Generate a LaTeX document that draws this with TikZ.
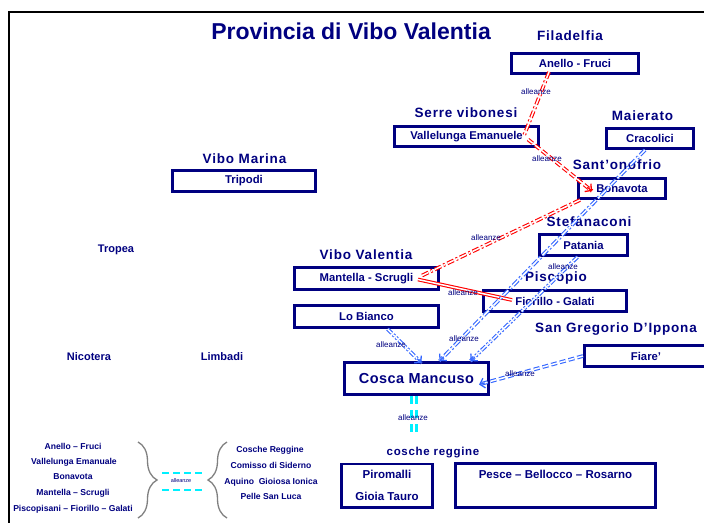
\documentclass[tikz,border=0pt]{standalone}
\usepackage{fontspec}
\setmainfont{Liberation Sans}
\newfontfamily\lblfont[LetterSpace=6]{Liberation Sans}
\newfontfamily\bigfont[LetterSpace=3]{Liberation Sans}
\usetikzlibrary{calc,arrows.meta,decorations.pathreplacing}
\definecolor{navy}{RGB}{0,0,128}
\definecolor{lblue}{RGB}{51,102,255}
\definecolor{aqua}{RGB}{0,240,255}
\definecolor{bgray}{RGB}{128,128,128}
\begin{document}
\begin{tikzpicture}[x=1pt,y=-1pt,
  bx/.style={draw=navy, line width=2.6pt, inner sep=0pt, text=navy,
    font=\bfseries\fontsize{11.3}{13}\selectfont},
  tl/.style={anchor=base, text=navy, inner sep=0pt, font=\lblfont\bfseries\fontsize{13.5}{15}\selectfont},
  pl/.style={anchor=base, text=navy, inner sep=0pt, font=\bfseries\fontsize{11}{13}\selectfont},
  lg/.style={anchor=base, text=navy, inner sep=0pt, font=\bfseries\fontsize{8.6}{10}\selectfont},
  al/.style={text=navy, inner sep=0pt, font=\fontsize{8}{9}\selectfont},
  dbl/.style={double=white, line width=1.1pt, double distance=1.5pt},
  dashdot/.style={dash pattern=on 7pt off 2.5pt on 2pt off 2.5pt},
  dashdotdot/.style={dash pattern=on 6pt off 2pt on 2pt off 2pt on 2pt off 2pt},
  dsh/.style={dash pattern=on 6pt off 3pt},
  tip/.style={-{Straight Barb[length=4.5pt,width=10pt,line width=1.3pt]}, line width=1.2pt},
  brc/.style={draw=bgray, line width=1.3pt, decorate, decoration={brace, amplitude=19pt}}
]
\useasboundingbox (0,0) rectangle (704,522);
\clip (0,0) rectangle (704,522);
\fill[white] (0,0) rectangle (704,522);
\draw[black, line width=2pt] (9,540) -- (9,12) -- (720,12);

\node[anchor=base, text=navy, inner sep=0pt, font=\bfseries\fontsize{23}{25}\selectfont] (title) at (351,39) {Provincia di Vibo Valentia};

% boxes
\node[bx, minimum width=127.4, minimum height=20.4] (anello) at (575,63.5) {Anello - Fruci};
\node[bx, minimum width=144.4, minimum height=20.4] (valle) at (466.5,136.5) {Vallelunga Emanuele};
\node[bx, minimum width=87.4, minimum height=20.4] (craco) at (650,138.5) {Cracolici};
\node[bx, minimum width=87.4, minimum height=20.4] (bona) at (622,188.5) {Bonavota};
\node[bx, minimum width=143.4, minimum height=21.4] (tripodi) at (244,181) {Tripodi};
\node[bx, minimum width=88.4, minimum height=21.4] (patania) at (583.5,245) {Patania};
\node[bx, minimum width=144.4, minimum height=22.4] (mantella) at (366.5,278.5) {Mantella - Scrugli};
\node[bx, minimum width=143.4, minimum height=21.4] (fiorillo) at (555,301) {Fiorillo - Galati};
\node[bx, minimum width=144.4, minimum height=22.4] (lobianco) at (366.5,316.5) {Lo Bianco};
\node[bx, minimum width=123.4, minimum height=21.4] (fiare) at (646,356) {Fiare’};
\node[bx, minimum width=144.4, minimum height=32.4, font=\bigfont\bfseries\fontsize{14.5}{16}\selectfont] (mancuso) at (416.5,378.5) {Cosca Mancuso};
\node[bx, minimum width=91.4, minimum height=43.4, align=center, font=\bfseries\fontsize{11.5}{22}\selectfont] (piromalli) at (387,485.5) {Piromalli\\Gioia Tauro};
\node[bx, minimum width=200.4, minimum height=44.4, align=center, font=\bfseries\fontsize{11.5}{22}\selectfont] (pesce) at (555.5,485.5) {Pesce – Bellocco – Rosarno\\\phantom{Gioia Tauro}};

% titles
\node[tl] (filad) at (570,40.7) {Filadelfia};
\node[tl] (serre) at (466,117.7) {Serre vibonesi};
\node[tl] (maier) at (642.5,120) {Maierato};
\node[tl] (santo) at (617,169) {Sant’onofrio};
\node[tl] (vmarina) at (244.5,163.3) {Vibo Marina};
\node[tl] (stefa) at (589,226) {Stefanaconi};
\node[tl] (vvalentia) at (366,259.3) {Vibo Valentia};
\node[tl] (piscopio) at (556,281.7) {Piscopio};
\node[tl] (sangreg) at (616,332.7) {San Gregorio D’Ippona};
\node[tl, font=\lblfont\bfseries\fontsize{11.5}{13}\selectfont] (cosche) at (433,455.7) {cosche reggine};
\node[pl] (tropea) at (116,252.5) {Tropea};
\node[pl] (nicotera) at (89,360) {Nicotera};
\node[pl] (limbadi) at (222,360) {Limbadi};

% connectors
\draw[red, dbl, dashdot] ([xshift=-26pt,yshift=3pt]anello.south) -- ([xshift=-16pt,yshift=1pt]valle.east);
\draw[red, dbl, dsh] ([xshift=-12pt,yshift=-3pt]valle.east) -- ([xshift=15pt,yshift=-2.5pt]bona.west);
\draw[red, tip] ($([xshift=15pt,yshift=-2.5pt]bona.west)!6pt!([xshift=-12pt,yshift=-3pt]valle.east)$) -- ([xshift=15pt,yshift=-2.5pt]bona.west);
\draw[red, dbl, dashdot] ([xshift=3pt]bona.south west) -- ([xshift=-20pt,yshift=2pt]mantella.east);
\draw[red, dbl] ([xshift=-22pt,yshift=-1pt]mantella.east) -- ([xshift=30pt,yshift=1pt]fiorillo.west);

\draw[lblue, dbl, dashdot] ([xshift=-5pt]craco.south) -- ([xshift=23pt]mancuso.north);
\draw[lblue, tip] ($([xshift=23pt]mancuso.north)!6pt!([xshift=-5pt]craco.south)$) -- ([xshift=23pt]mancuso.north);
\draw[lblue, dbl, dashdotdot] ([xshift=-6pt]patania.south) -- ([xshift=54pt]mancuso.north);
\draw[lblue, tip] ($([xshift=54pt]mancuso.north)!6pt!([xshift=-6pt]patania.south)$) -- ([xshift=54pt]mancuso.north);
\draw[lblue, dbl, dashdotdot] ([xshift=21pt]lobianco.south) -- ([xshift=5pt,yshift=-2pt]mancuso.north);
\draw[lblue, tip] ($([xshift=5pt,yshift=-2pt]mancuso.north)!6pt!([xshift=21pt]lobianco.south)$) -- ([xshift=5pt,yshift=-2pt]mancuso.north);
\draw[lblue, dbl, dsh] (fiare.west) -- ([xshift=-11pt,yshift=-6pt]mancuso.east);
\draw[lblue, tip] ($([xshift=-11pt,yshift=-6pt]mancuso.east)!6pt!(fiare.west)$) -- ([xshift=-11pt,yshift=-6pt]mancuso.east);

\coordinate (cr) at (414,435);
\draw[aqua, double=white, line width=2.5pt, double distance=2.5pt, dash pattern=on 8pt off 6pt] ([xshift=-2.5pt]mancuso.south) -- (cr);

% alleanze labels
\node[al] (l1) at (536,92) {alleanze};
\node[al] (l2) at (547,159) {alleanze};
\node[al] (l3) at (486,238) {alleanze};
\node[al] (l4) at (463,293) {alleanze};
\node[al] (l5) at (464,339) {alleanze};
\node[al] (l6) at (563,267) {alleanze};
\node[al] (l7) at (391,345) {alleanze};
\node[al] (l8) at (520,374) {alleanze};
\node[al] (l9) at (413,418) {alleanze};

% legend
\node[lg] (g1) at (73,449) {Anello – Fruci};
\node[lg] (g2) at (74,464.3) {Vallelunga Emanuale};
\node[lg] (g3) at (73,479.3) {Bonavota};
\node[lg] (g4) at (73,495) {Mantella – Scrugli};
\node[lg] (g5) at (73,511) {Piscopisani – Fiorillo – Galati};
\node[lg] (h1) at (270,452.7) {Cosche Reggine};
\node[lg] (h2) at (271,468.3) {Comisso di Siderno};
\node[lg] (h3) at (271,484) {Aquino~~Gioiosa Ionica};
\node[lg] (h4) at (271,499) {Pelle San Luca};
\draw[brc] (138,442) -- (138,518);
\draw[brc] (227,518) -- (227,442);
\draw[aqua, line width=2pt, dash pattern=on 7pt off 4pt] (162,473.3) -- (202,473.3);
\draw[aqua, line width=2pt, dash pattern=on 7pt off 4pt] (162,490.3) -- (202,490.3);
\node[al, font=\fontsize{5.5}{6}\selectfont] (lg0) at (181,481) {alleanze};
\end{tikzpicture}
\end{document}
